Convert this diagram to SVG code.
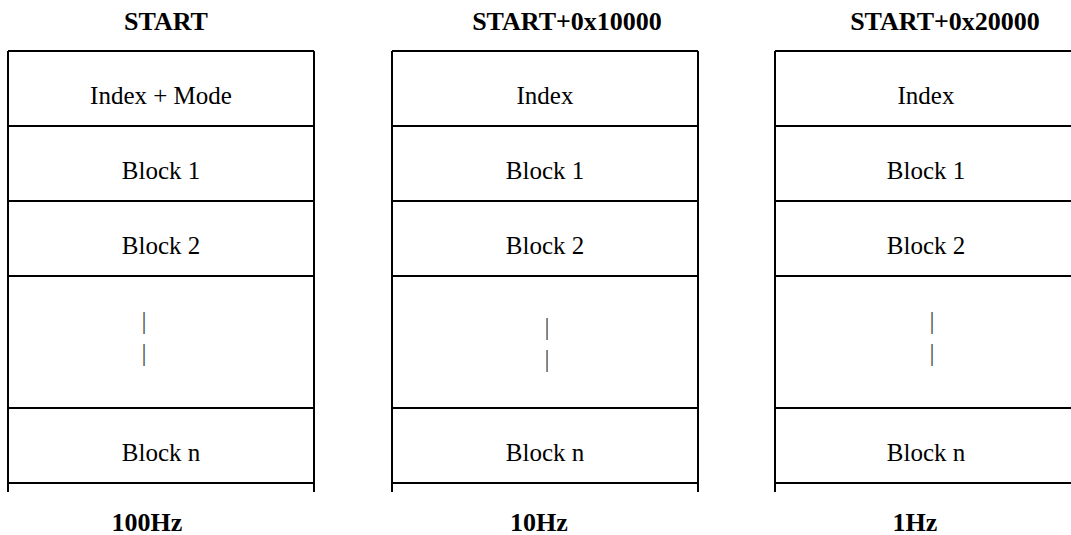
<svg xmlns="http://www.w3.org/2000/svg" width="1071" height="535" viewBox="0 0 1071 535">
<style>
.ln{stroke:#000;stroke-width:2;fill:none}
.t{font-family:"Liberation Serif","Times New Roman",serif;font-size:25px;fill:#000;text-anchor:middle}
.h{font-family:"Liberation Serif","Times New Roman",serif;font-size:26px;font-weight:bold;fill:#000;text-anchor:middle}
.p{font-family:"Liberation Serif","Times New Roman",serif;font-size:25px;fill:#444;text-anchor:middle}
</style>
<rect width="1071" height="535" fill="#fff"/>
<g id="col1">
<text class="h" x="166" y="30">START</text>
<path class="ln" d="M8,51V492M314,51V492M8,51H314M8,126H314M8,201H314M8,276H314M8,408H314M8,483H314"/>
<text class="t" x="161" y="104">Index + Mode</text>
<text class="t" x="161" y="179">Block 1</text>
<text class="t" x="161" y="254">Block 2</text>
<text class="p" x="144" y="329">|</text>
<text class="p" x="144" y="360.5">|</text>
<text class="t" x="161" y="461">Block n</text>
<text class="h" x="147" y="531">100Hz</text>
</g>
<g id="col2">
<text class="h" x="567" y="30">START+0x10000</text>
<path class="ln" d="M392,51V492M698,51V492M392,51H698M392,126H698M392,201H698M392,276H698M392,408H698M392,483H698"/>
<text class="t" x="545" y="104">Index</text>
<text class="t" x="545" y="179">Block 1</text>
<text class="t" x="545" y="254">Block 2</text>
<text class="p" x="547" y="334.5">|</text>
<text class="p" x="547" y="366.5">|</text>
<text class="t" x="545" y="461">Block n</text>
<text class="h" x="539" y="531">10Hz</text>
</g>
<g id="col3">
<text class="h" x="945" y="30">START+0x20000</text>
<path class="ln" d="M775,51V492M775,51H1072M775,126H1072M775,201H1072M775,276H1072M775,408H1072M775,483H1072"/>
<text class="t" x="926" y="104">Index</text>
<text class="t" x="926" y="179">Block 1</text>
<text class="t" x="926" y="254">Block 2</text>
<text class="p" x="932" y="329">|</text>
<text class="p" x="932" y="360.5">|</text>
<text class="t" x="926" y="461">Block n</text>
<text class="h" x="915" y="531">1Hz</text>
</g>
<g id="connectors"/>
</svg>
